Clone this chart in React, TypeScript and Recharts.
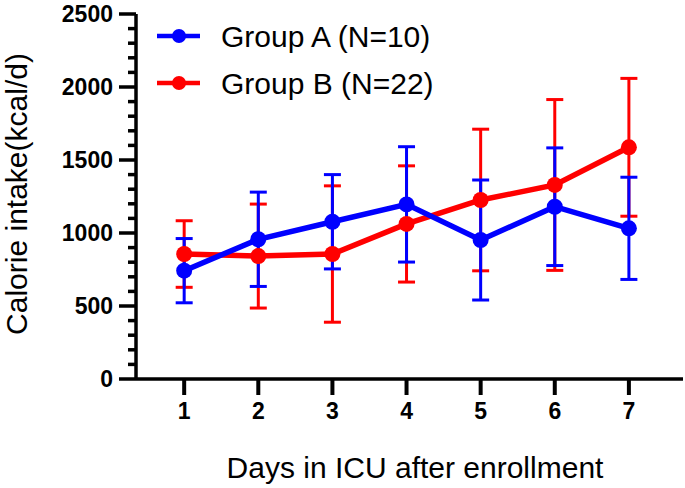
import { LineChart, Line, XAxis, YAxis, ErrorBar } from "recharts";

const days = [1, 2, 3, 4, 5, 6, 7];
const groupAMean = [742, 957, 1077, 1196, 952, 1180, 1032];
const groupASd = [220, 323, 323, 395, 411, 403, 350];
const groupBMean = [856, 842, 856, 1062, 1226, 1329, 1587];
const groupBSd = [228, 356, 467, 398, 485, 585, 472];
const yMajorTicks = [0, 500, 1000, 1500, 2000, 2500];
const yMinorStep = 100;

const seriesNames = ["Group A (N=10)", "Group B (N=22)"];
const BLUE = "#0000ff";
const RED = "#ff0000";
const FONT = "'Liberation Sans', Arial, sans-serif";

const W = 685;
const H = 488;

const yAllTicks: number[] = [];
for (let v = 0; v <= 2500; v += yMinorStep) yAllTicks.push(v);

function YTick(props: any) {
  const { x, y, payload } = props;
  const major = yMajorTicks.includes(payload.value);
  return (
    <g>
      <line x1={x} x2={x - (major ? 17 : 8)} y1={y} y2={y} stroke="#000" strokeWidth={3.5} />
      {major && (
        <text x={x - 23} y={y + 8} textAnchor="end" fontWeight="bold" fontSize={23} fill="#000" fontFamily={FONT}>
          {payload.value}
        </text>
      )}
    </g>
  );
}

function XTick(props: any) {
  const { x, y, payload } = props;
  return (
    <g>
      <line x1={x} x2={x} y1={y} y2={y + 16} stroke="#000" strokeWidth={4} />
      <text x={x} y={y + 40} textAnchor="middle" fontWeight="bold" fontSize={23} fill="#000" fontFamily={FONT}>
        {payload.value}
      </text>
    </g>
  );
}

export default function App() {
  const data = days.map((d, i) => ({
    day: d,
    a: groupAMean[i],
    aSd: groupASd[i],
    b: groupBMean[i],
    bSd: groupBSd[i],
  }));

  return (
    <div style={{ position: "absolute", left: 0, top: 0, width: W, height: H, background: "#fff", fontFamily: FONT }}>
      <LineChart width={W} height={H} data={data} margin={{ top: 14, right: 2, bottom: 0, left: 0 }}>
        <XAxis
          dataKey="day"
          type="number"
          domain={[0.35, 7.73]}
          ticks={days}
          interval={0}
          tickSize={0}
          tickMargin={0}
          tickLine={false}
          tick={<XTick />}
          axisLine={{ stroke: "#000", strokeWidth: 3.5 }}
          height={109}
          allowDataOverflow
          label={{
            content: () => (
              <text x={415} y={478} textAnchor="middle" fontSize={30} fill="#000" fontFamily={FONT}>
                Days in ICU after enrollment
              </text>
            ),
          }}
        />
        <YAxis
          type="number"
          domain={[0, 2500]}
          ticks={yAllTicks}
          interval={0}
          width={136}
          tickSize={0}
          tickMargin={0}
          tickLine={false}
          tick={<YTick />}
          axisLine={{ stroke: "#000", strokeWidth: 3.5 }}
          allowDataOverflow
          label={{
            content: () => (
              <text x={27} y={194} transform="rotate(-90, 27, 194)" textAnchor="middle" fontSize={30} fill="#000" fontFamily={FONT}>
                Calorie intake(kcal/d)
              </text>
            ),
          }}
        />
        <Line
          dataKey="b"
          type="linear"
          stroke={RED}
          strokeWidth={5.5}
          dot={{ r: 8, fill: RED, stroke: RED, strokeWidth: 0 }}
          isAnimationActive={false}
        >
          <ErrorBar dataKey="bSd" direction="y" width={8.5} stroke={RED} strokeWidth={3} />
        </Line>
        <Line
          dataKey="a"
          type="linear"
          stroke={BLUE}
          strokeWidth={5.5}
          dot={{ r: 8, fill: BLUE, stroke: BLUE, strokeWidth: 0 }}
          isAnimationActive={false}
        >
          <ErrorBar dataKey="aSd" direction="y" width={8.5} stroke={BLUE} strokeWidth={3} />
        </Line>
      </LineChart>
      <svg width={W} height={110} style={{ position: "absolute", left: 0, top: 0 }}>
        {[BLUE, RED].map((c, i) => (
          <g key={c}>
            <line x1={157} x2={200} y1={36 + i * 47} y2={36 + i * 47} stroke={c} strokeWidth={4.5} />
            <circle cx={179} cy={36 + i * 47} r={7} fill={c} />
            <text x={221} y={47 + i * 47} fontSize={30} fill="#000" fontFamily={FONT}>
              {seriesNames[i]}
            </text>
          </g>
        ))}
      </svg>
    </div>
  );
}
